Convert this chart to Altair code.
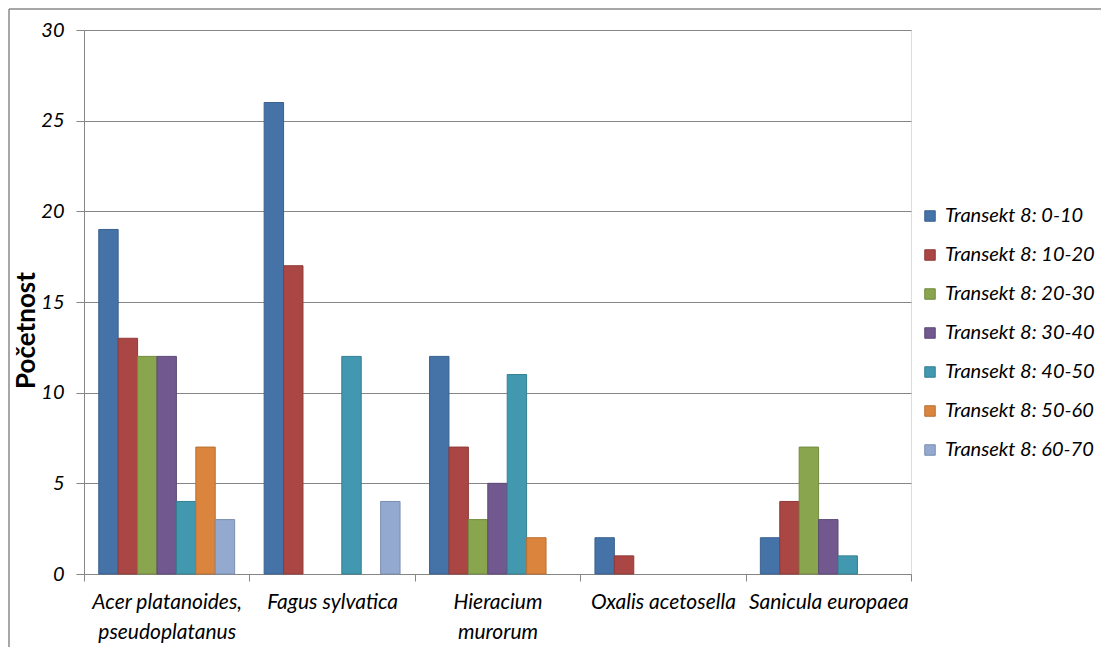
import altair as alt
import pandas as pd

categories = ["Acer platanoides, pseudoplatanus", "Fagus sylvatica", "Hieracium murorum",
              "Oxalis acetosella", "Sanicula europaea"]
series = ["Transekt 8: 0-10", "Transekt 8: 10-20", "Transekt 8: 20-30", "Transekt 8: 30-40",
          "Transekt 8: 40-50", "Transekt 8: 50-60", "Transekt 8: 60-70"]
v_0_10 = [19, 26, 12, 2, 2]
v_10_20 = [13, 17, 7, 1, 4]
v_20_30 = [12, 0, 3, 0, 7]
v_30_40 = [12, 0, 5, 0, 3]
v_40_50 = [4, 12, 11, 0, 1]
v_50_60 = [7, 0, 2, 0, 0]
v_60_70 = [3, 4, 0, 0, 0]
y_ticks = [0, 5, 10, 15, 20, 25, 30]

fills = ["#4573A8", "#AA4643", "#89A54E", "#71588F", "#4198AF", "#DB843D", "#93A9CF"]
strokes = ["#3A6190", "#8F3B38", "#728A41", "#5E4977", "#367F92", "#B86F33", "#7B8EAF"]

all_vals = [v_0_10, v_10_20, v_20_30, v_30_40, v_40_50, v_50_60, v_60_70]
rows = []
for s, vals in zip(series, all_vals):
    for c, v in zip(categories, vals):
        if v > 0:
            rows.append({"druh": c, "serie": s, "pocet": v})
df = pd.DataFrame(rows)

FONT = "Lato"
W, H = 827, 544

label_expr = ("datum.label == 'Acer platanoides, pseudoplatanus' ? ['Acer platanoides,', 'pseudoplatanus'] : "
              "datum.label == 'Hieracium murorum' ? ['Hieracium', 'murorum'] : datum.label")

bars = alt.Chart(df).mark_bar(strokeWidth=1).encode(
    x=alt.X("druh:N", sort=categories, title=None,
            scale=alt.Scale(domain=categories, paddingInner=0, paddingOuter=0),
            axis=alt.Axis(labelAngle=0, labelExpr=label_expr, tickBand="extent",
                          labelFont=FONT, labelFontStyle="italic", labelFontSize=21,
                          labelColor="#000000", labelPadding=10, labelLineHeight=30,
                          domainColor="#868686", tickColor="#868686", tickSize=7,
                          labelBaseline="top")),
    xOffset=alt.XOffset("serie:N", sort=series,
                        scale=alt.Scale(domain=series, paddingInner=0, paddingOuter=0.76)),
    y=alt.Y("pocet:Q", title="Početnost",
            scale=alt.Scale(domain=[0, 30], nice=False),
            axis=alt.Axis(values=y_ticks, grid=True, gridColor="#868686", domainColor="#868686",
                          tickColor="#868686", tickSize=8, labelFont=FONT, labelFontStyle="italic",
                          labelFontSize=20, labelColor="#000000", labelPadding=12,
                          titleFont=FONT, titleFontWeight="bold", titleFontSize=26,
                          titleColor="#000000", titleX=-50, titleY=300,
                          titleBaseline="alphabetic", titleAngle=270, titleAlign="center")),
    fill=alt.Fill("serie:N", sort=series, scale=alt.Scale(domain=series, range=fills),
                  legend=alt.Legend(title=None, orient="none", legendX=836, legendY=176,
                                    symbolType="square", symbolSize=110, symbolStrokeWidth=1,
                                    labelFont=FONT, labelFontStyle="italic", labelFontSize=20,
                                    labelColor="#000000", rowPadding=19, labelOffset=5)),
    stroke=alt.Stroke("serie:N", sort=series, scale=alt.Scale(domain=series, range=strokes),
                      legend=None),
)

frame_df = pd.DataFrame({"k": [0]})
frame_left = alt.Chart(frame_df).mark_rule(color="#8a8a8a", strokeWidth=1.5).encode(
    x=alt.value(-75), y=alt.value(-21), y2=alt.value(617))
frame_top = alt.Chart(frame_df).mark_rule(color="#8a8a8a", strokeWidth=1.5).encode(
    x=alt.value(-75), x2=alt.value(1017), y=alt.value(-21))

chart = alt.layer(bars, frame_left, frame_top).properties(
    width=W, height=H, padding=0
).configure_view(stroke=None).configure(background="white")

chart.save("out.html", embed_options={"renderer": "svg", "actions": False})
